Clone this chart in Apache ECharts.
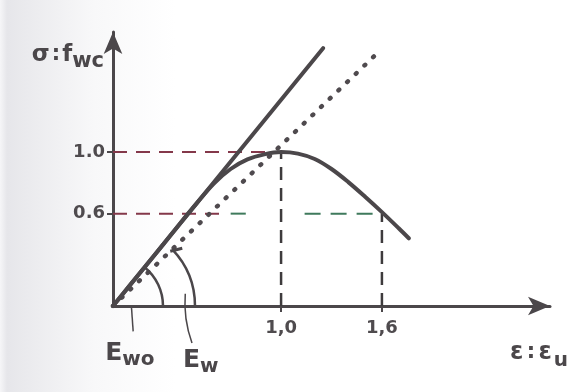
<!DOCTYPE html>
<html>
<head>
<meta charset="utf-8">
<script src="https://cdn.jsdelivr.net/npm/echarts@6/dist/echarts.min.js"></script>
<style>
  html, body { margin: 0; padding: 0; background: #fff; }
  #chart { width: 586px; height: 392px; }
</style>
</head>
<body>
<div id="chart"></div>
<script>
// Relative strain ε/εu and relative stress σ/fwc of the stress–strain curve
const strain = [0, 0.1, 0.2, 0.3, 0.4, 0.5, 0.6, 0.7, 0.8, 0.9, 1.0, 1.1, 1.2, 1.3, 1.4, 1.5, 1.6, 1.7, 1.76];
const stress = [0, 0.134, 0.268, 0.402, 0.538, 0.67, 0.795, 0.89, 0.952, 0.985, 1.0, 0.99, 0.955, 0.89, 0.805, 0.71, 0.61, 0.505, 0.44];

// Initial tangent (Ewo) and secant (Ew) lines: start and end points
const tangentStrain = [0, 1.25];
const tangentStress = [0, 1.675];
const secantStrain = [0, 1.58];
const secantStress = [0, 1.65];

// Reference levels
const peakStrain = 1.0;
const peakStress = 1.0;
const levelStrain = 1.6;
const levelStress = 0.6;

// Tick values on the axes
const xTicks = [1.0, 1.6];
const yTicks = [0.6, 1.0];

const pairs = (xs, ys) => xs.map((x, i) => [x, ys[i]]);

const ink = '#4b474a';
const font = 'DejaVu Sans';

const chart = echarts.init(document.getElementById('chart'), null, { renderer: 'canvas' });

const dashedRed = { color: '#84384a', width: 2, type: [14, 9] };
const dashedGreen = { color: '#3f7a5c', width: 2, type: [16, 10] };
const dashedDark = { color: '#3e3b3d', width: 2.5, type: [13, 8] };

function guide(name, data, style) {
  return {
    name, type: 'line', data, symbol: 'none', silent: true,
    lineStyle: style, z: 1, animation: false
  };
}

chart.setOption({
  animation: false,
  backgroundColor: {
    type: 'linear', x: 0, y: 0, x2: 1, y2: 0,
    colorStops: [
      { offset: 0, color: '#f6f6f8' },
      { offset: 0.012, color: '#e6e6ea' },
      { offset: 0.05, color: '#ebebee' },
      { offset: 0.16, color: '#f8f8f9' },
      { offset: 0.3, color: '#ffffff' },
      { offset: 1, color: '#ffffff' }
    ]
  },
  grid: { left: 113, top: 32, width: 437, height: 274, containLabel: false },
  xAxis: {
    type: 'value', min: 0, max: 2.6,
    name: '{e|ε} {c|:} {e|ε}{s|u}',
    nameLocation: 'end', nameGap: -40,
    nameTextStyle: {
      align: 'left', verticalAlign: 'top', padding: [29, 0, 0, 0],
      rich: {
        e: { fontFamily: font, fontSize: 24, fontWeight: 'bold', color: ink },
        c: { fontFamily: font, fontSize: 21, fontWeight: 'bold', color: ink },
        s: { fontFamily: font, fontSize: 20, fontWeight: 'bold', color: ink, padding: [16, 0, 0, 2] }
      }
    },
    axisLine: { show: true, symbol: ['none', 'arrow'], symbolSize: [14, 22], lineStyle: { color: ink, width: 3 } },
    axisTick: { show: true, customValues: xTicks, length: 6, lineStyle: { color: ink, width: 2 } },
    axisLabel: {
      customValues: xTicks, margin: 13, color: '#4f4b4e', fontFamily: font, fontSize: 18, fontWeight: 'bold',
      formatter: v => v.toFixed(1).replace('.', ',')
    },
    splitLine: { show: false }
  },
  yAxis: {
    type: 'value', min: 0, max: 1.78,
    name: '{g|σ}{c|:}{f|f}{s|wc}',
    nameLocation: 'end', nameGap: -6,
    nameTextStyle: {
      align: 'right', verticalAlign: 'top', padding: [0, 9, 0, 0],
      rich: {
        g: { fontFamily: font, fontSize: 23, fontWeight: 'bold', color: ink },
        c: { fontFamily: font, fontSize: 21, fontWeight: 'bold', color: ink, padding: [0, 2, 0, 2] },
        f: { fontFamily: font, fontSize: 23, fontWeight: 'bold', color: ink },
        s: { fontFamily: font, fontSize: 21, fontWeight: 'bold', color: ink, padding: [13, 0, 0, 0] }
      }
    },
    axisLine: { show: true, symbol: ['none', 'arrow'], symbolSize: [14, 22], lineStyle: { color: ink, width: 3 } },
    axisTick: { show: true, customValues: yTicks, length: 6, lineStyle: { color: ink, width: 2 } },
    axisLabel: {
      customValues: yTicks, margin: 8, color: '#4f4b4e', fontFamily: font, fontSize: 18, fontWeight: 'bold',
      formatter: v => v.toFixed(1)
    },
    splitLine: { show: false }
  },
  series: [
    guide('peak-h', [[0, peakStress], [peakStrain, peakStress]], dashedRed),
    guide('peak-v', [[peakStrain, 0], [peakStrain, peakStress]], dashedDark),
    guide('level-h-left', [[0, levelStress], [0.65, levelStress]], dashedRed),
    guide('level-h-mid', [[0.7, levelStress], [0.79, levelStress]], dashedGreen),
    guide('level-h-right', [[1.14, levelStress], [levelStrain, levelStress]], dashedGreen),
    guide('level-v', [[levelStrain, 0], [levelStrain, levelStress]], dashedDark),
    {
      name: 'secant', type: 'line', data: pairs(secantStrain, secantStress), symbol: 'none',
      lineStyle: { color: '#4f4a4e', width: 4.5, type: [1, 11], cap: 'round' }, z: 2
    },
    {
      name: 'tangent', type: 'line', data: pairs(tangentStrain, tangentStress), symbol: 'none',
      lineStyle: { color: ink, width: 4, cap: 'round' }, z: 3
    },
    {
      name: 'curve', type: 'line', data: pairs(strain, stress), symbol: 'none', smooth: 0.35,
      lineStyle: { color: ink, width: 4, cap: 'round' }, z: 4
    },
    {
      // angle arcs for Ewo and Ew with their leader lines and labels
      name: 'angles', type: 'custom', clip: false, z: 5,
      data: [[0, 0]],
      renderItem: (params, api) => {
        const o = api.coord([0, 0]);
        const t = api.coord([tangentStrain[1], tangentStress[1]]);
        const s = api.coord([secantStrain[1], secantStress[1]]);
        const aT = Math.atan2(t[1] - o[1], t[0] - o[0]);
        const aS = Math.atan2(s[1] - o[1], s[0] - o[0]);
        const st = { stroke: ink, lineWidth: 2.5, fill: null };
        const p = (x, y) => api.coord([x, y]);
        const a1 = p(0.11, -0.01), a2 = p(0.12, -0.165);
        const b1 = p(0.43, 0.08), b2 = p(0.47, -0.24);
        const hs = [o[0] + 82 * Math.cos(aS), o[1] + 82 * Math.sin(aS)];
        const lbl = (x, y, sub) => ({
          type: 'text', x, y,
          style: {
            text: '{e|E}{s|' + sub + '}',
            rich: {
              e: { fontFamily: font, fontSize: 25, fontWeight: 'bold', fill: ink },
              s: { fontFamily: font, fontSize: 20, fontWeight: 'bold', fill: ink, padding: [12, 0, 0, 0] }
            }
          }
        });
        return {
          type: 'group',
          children: [
            { type: 'arc', shape: { cx: o[0], cy: o[1], r: 50, startAngle: aT, endAngle: 0, clockwise: true }, style: st },
            { type: 'arc', shape: { cx: o[0], cy: o[1], r: 82, startAngle: aS, endAngle: 0, clockwise: true }, style: st },
            { type: 'line', shape: { x1: hs[0] - 2, y1: hs[1] + 2, x2: hs[0] + 10, y2: hs[1] - 1 }, style: { stroke: ink, lineWidth: 3 } },
            { type: 'line', shape: { x1: a1[0], y1: a1[1], x2: a2[0], y2: a2[1] }, style: { stroke: ink, lineWidth: 1.5 } },
            { type: 'bezierCurve', shape: { x1: b1[0], y1: b1[1], x2: b2[0], y2: b2[1], cpx1: b1[0] - 2, cpy1: b1[1] + 25 }, style: { stroke: ink, lineWidth: 1.5, fill: null } },
            lbl(a2[0] - 28, a2[1] + 6, 'wo'),
            lbl(b2[0] - 9, b2[1] + 2, 'w')
          ]
        };
      }
    }
  ]
});
</script>
</body>
</html>
